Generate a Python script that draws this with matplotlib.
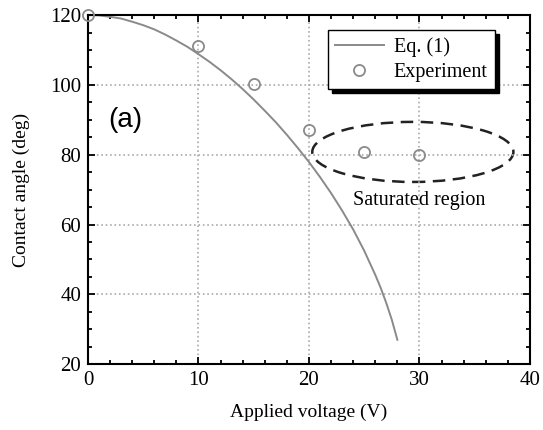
import numpy as np
from matplotlib import pyplot as plt
from matplotlib.patches import Ellipse
from matplotlib.ticker import MultipleLocator

# model curve
eq_voltage = [0, 1, 2, 3, 4, 5, 6, 7, 8, 9, 10, 11, 12, 13, 14, 15, 16,
              17, 18, 19, 20, 21, 22, 23, 24, 25, 26, 26.5, 27, 27.5, 28]
eq_angle = [120, 119.9, 119.5, 119.0, 118.1, 117.1, 115.9, 114.4, 112.7,
            110.9, 108.8, 106.6, 104.2, 101.6, 98.8, 95.8, 92.6, 89.3,
            85.7, 81.9, 77.9, 73.6, 69.0, 64.0, 58.6, 52.5, 45.6, 41.8,
            37.5, 32.7, 27.0]

# measured points
exp_voltage = [0, 10, 15, 20, 25, 30]
exp_angle = [120, 111.2, 100.2, 87.2, 80.7, 79.8]

serif = ['Liberation Serif', 'DejaVu Serif']
plt.rcParams['font.family'] = serif

fig = plt.figure(figsize=(5.43, 4.30), dpi=100)
ax = fig.add_axes([0.162, 0.153, 0.814, 0.812])

ax.plot(eq_voltage, eq_angle, color='#8a8a8a', lw=1.4, label='Eq. (1)')
ax.plot(exp_voltage, exp_angle, 'o', mfc='none', mec='#8a8a8a', mew=1.3,
        ms=8, label='Experiment', clip_on=False, zorder=5)

ax.set_xlim(0, 40)
ax.set_ylim(20, 120)
ax.xaxis.set_major_locator(MultipleLocator(10))
ax.xaxis.set_minor_locator(MultipleLocator(2))
ax.yaxis.set_major_locator(MultipleLocator(20))
ax.yaxis.set_minor_locator(MultipleLocator(5))
ax.tick_params(which='both', direction='in', top=True, right=True,
               width=1.3, labelsize=15)
ax.tick_params(which='major', length=5, pad=5)
ax.tick_params(which='minor', length=3)
for s in ax.spines.values():
    s.set_linewidth(1.5)
ax.grid(True, which='major', color='#aaaaaa', linestyle=':', lw=1.2)

ax.set_xlabel('Applied voltage (V)', fontsize=14, labelpad=10)
ax.set_ylabel('Contact angle (deg)', fontsize=14, labelpad=14)

ax.text(1.8, 90, '(a)', fontsize=20, family='Liberation Sans',
        ha='left', va='center')

ell = Ellipse((29.4, 80.8), 18.2, 17.2, fill=False, edgecolor='#222222',
              linestyle=(0, (5, 3)), lw=1.8)
ax.add_patch(ell)
ax.text(30.0, 67, 'Saturated region', fontsize=14.5, ha='center',
        va='center')

leg = ax.legend(loc='upper right', bbox_to_anchor=(0.92, 0.957),
                borderaxespad=0, fancybox=False, fontsize=14.5,
                shadow={'color': 'black', 'alpha': 1, 'ox': 3, 'oy': -3},
                handlelength=2.4, handletextpad=0.5, framealpha=1,
                borderpad=0.35, labelspacing=0.3)
leg.get_frame().set_edgecolor('black')
leg.get_frame().set_linewidth(1.0)

plt.savefig('out.png', dpi=100)
plt.close()
